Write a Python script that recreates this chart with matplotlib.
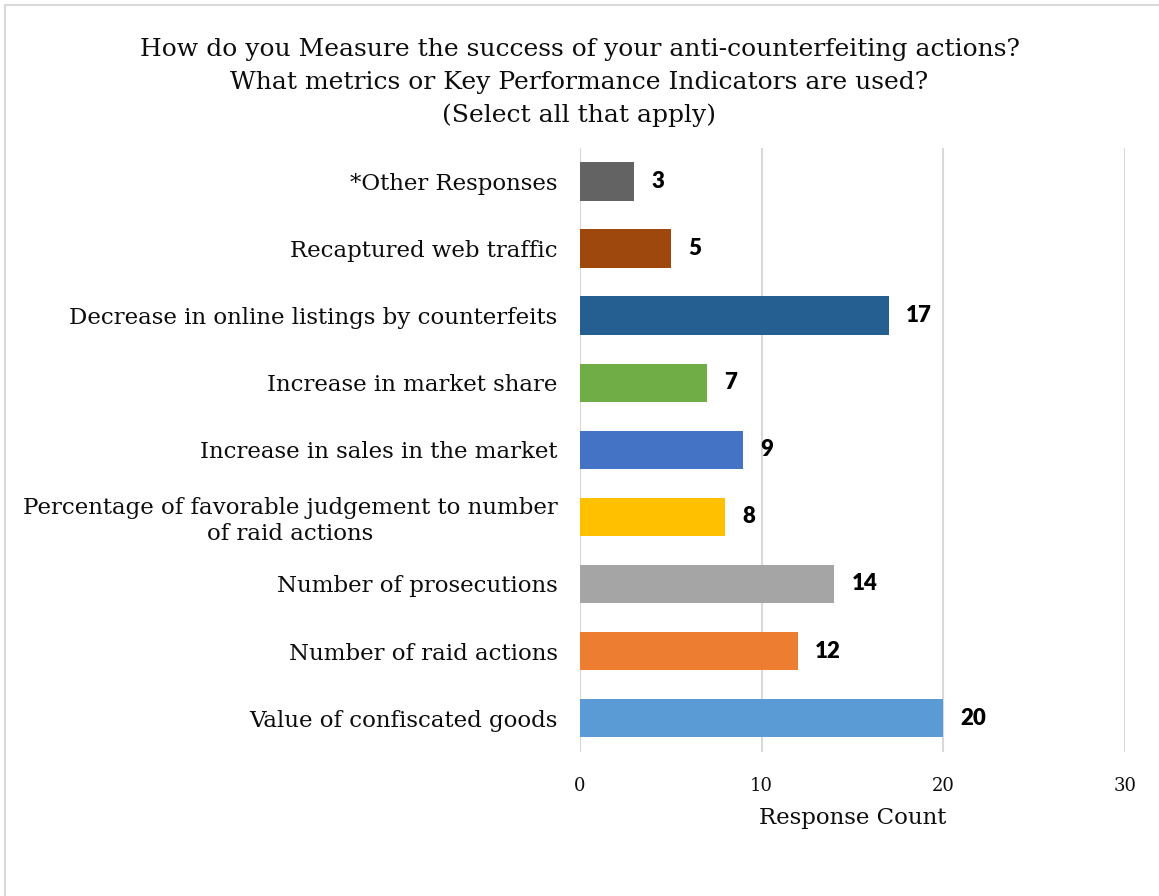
import matplotlib.pyplot as plt
from matplotlib.patches import Rectangle

# survey answers, listed bottom to top
categories = [
    "Value of confiscated goods",
    "Number of raid actions",
    "Number of prosecutions",
    "Percentage of favorable judgement to number\nof raid actions",
    "Increase in sales in the market",
    "Increase in market share",
    "Decrease in online listings by counterfeits",
    "Recaptured web traffic",
    "*Other Responses",
]
counts = [20, 12, 14, 8, 9, 7, 17, 5, 3]
colors = ["#5B9BD5", "#ED7D31", "#A5A5A5", "#FFC000", "#4472C4",
          "#70AD47", "#255E91", "#9E480E", "#636363"]
x_ticks = [0, 10, 20, 30]

title = ("How do you Measure the success of your anti-counterfeiting actions?\n"
         "What metrics or Key Performance Indicators are used?\n"
         "(Select all that apply)")

serif = ["DejaVu Serif"]
label_font = ["Lato", "DejaVu Sans"]
ink = "#0D0D0D"

fig = plt.figure(figsize=(11.59, 8.96), dpi=100)
ax = fig.add_axes([0.5004, 0.161, 0.4703, 0.674])

y = range(len(categories))
ax.barh(y, counts, height=0.57, color=colors, zorder=2)
for i, v in enumerate(counts):
    ax.text(v + 0.95, i, str(v), va="center", ha="left", fontsize=16,
            fontweight="heavy", family=label_font, color="black")

ax.set_xlim(0, 30)
ax.set_ylim(-0.5, len(categories) - 0.5)
ax.set_xticks(x_ticks)
ax.set_xticklabels([str(t) for t in x_ticks], family=serif, fontsize=13)
ax.set_yticks(list(y))
ax.set_yticklabels(categories, family=serif, fontsize=16.5, linespacing=1.2,
                   multialignment="center")
ax.tick_params(axis="both", length=0, colors=ink)
ax.tick_params(axis="x", pad=18)
ax.tick_params(axis="y", pad=16)
ax.xaxis.grid(True, color="#D9D9D9", linewidth=1.5, zorder=0)
for s in ax.spines.values():
    s.set_visible(False)

ax.set_xlabel("Response Count", family=serif, fontsize=16.5, labelpad=9,
              color=ink)

fig.suptitle(title, family=serif, fontsize=18, y=0.958, linespacing=1.55,
             color=ink)

# thin frame around the whole chart
fig.patches.append(Rectangle((5 / 1159, -0.1), 1.2, 1.1 - 5 / 896,
                             transform=fig.transFigure, fill=False,
                             edgecolor="#D9D9D9", linewidth=1.5))

fig.savefig("out.png", dpi=100, facecolor="white")
